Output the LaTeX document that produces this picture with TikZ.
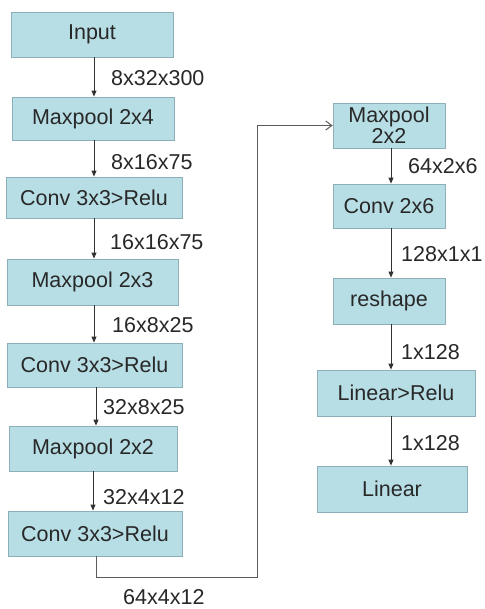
\documentclass[tikz,border=0pt]{standalone}
\usepackage{fontspec}
\setmainfont{Liberation Sans}
\usetikzlibrary{arrows.meta}
\definecolor{boxfill}{RGB}{183,222,229}
\definecolor{boxline}{RGB}{140,175,185}
\definecolor{txt}{RGB}{40,40,40}
\definecolor{wire}{RGB}{50,50,50}
\begin{document}
\begin{tikzpicture}[x=1pt,y=-1pt,
  blk/.style={draw=boxline,line width=0.8pt,fill=boxfill,text=txt,inner sep=0pt,align=center,
    font=\fontsize{21.5}{23}\selectfont},
  lbl/.style={anchor=west,text=txt,inner sep=0pt,font=\fontsize{21.5}{23}\selectfont},
  arr/.style={draw=wire,line width=0.9pt,-{Triangle[length=6pt,width=5pt]}},
  arro/.style={draw=wire!80,line width=1pt,-{Straight Barb[length=6pt,width=9pt]}}]
\useasboundingbox (0,0) rectangle (484,609);
% left column
\node[blk,minimum width=162pt,minimum height=45pt] (in) at (92,34.5) {Input};
\node[blk,minimum width=162pt,minimum height=43pt] (m1) at (93,118.5) {Maxpool 2x4};
\node[blk,minimum width=176pt,minimum height=41pt] (c1) at (94,197.5) {Conv 3x3>Relu};
\node[blk,minimum width=171pt,minimum height=46pt] (m2) at (92.5,282) {Maxpool 2x3};
\node[blk,minimum width=175pt,minimum height=44pt] (c2) at (94.5,365) {Conv 3x3>Relu};
\node[blk,minimum width=168pt,minimum height=45pt] (m3) at (93,448.5) {Maxpool 2x2};
\node[blk,minimum width=174pt,minimum height=45pt] (c3) at (95,533.5) {Conv 3x3>Relu};
% right column
\node[blk,minimum width=112pt,minimum height=45pt] (mr) at (389,125.5) {Maxpool\\[-2pt]2x2};
\node[blk,minimum width=112pt,minimum height=44pt] (cr) at (389,206) {Conv 2x6};
\node[blk,minimum width=112pt,minimum height=46pt] (rs) at (389,301) {reshape};
\node[blk,minimum width=158pt,minimum height=46pt] (lr) at (396,393) {Linear>Relu};
\node[blk,minimum width=150pt,minimum height=46pt] (li) at (392,489) {Linear};
% left arrows
\draw[arr] ([xshift=2pt]in.south) -- ([xshift=2pt]in.south |- m1.north);
\draw[arr] ([xshift=1pt]m1.south) -- ([xshift=1pt]m1.south |- c1.north);
\draw[arr] (c1.south) -- (c1.south |- m2.north);
\draw[arr] ([xshift=1.5pt]m2.south) -- ([xshift=1.5pt]m2.south |- c2.north);
\draw[arr] ([xshift=1.5pt]c2.south) -- ([xshift=1.5pt]c2.south |- m3.north);
\draw[arr] (m3.south) -- (m3.south |- c3.north);
% connector to right column
\coordinate (bend) at (257,577);
\draw[arro] ([xshift=1pt]c3.south) |- (bend) |- (mr.west);
% right arrows
\draw[arr] ([xshift=2pt]mr.south) -- ([xshift=2pt]mr.south |- cr.north);
\draw[arr] ([xshift=2pt]cr.south) -- ([xshift=2pt]cr.south |- rs.north);
\draw[arr] ([xshift=2pt]rs.south) -- ([xshift=2pt]rs.south |- lr.north);
\draw[arr] ([xshift=-5pt]lr.south) -- ([xshift=-5pt]lr.south |- li.north);
% labels
\node[lbl] (l1) at (111,78) {8x32x300};
\node[lbl] (l2) at (111,162) {8x16x75};
\node[lbl] (l3) at (110,242) {16x16x75};
\node[lbl] (l4) at (112,325) {16x8x25};
\node[lbl] (l5) at (103,407) {32x8x25};
\node[lbl] (l6) at (103,497) {32x4x12};
\node[lbl] (l7) at (123,597) {64x4x12};
\node[lbl] (l8) at (408,166) {64x2x6};
\node[lbl] (l9) at (401,254) {128x1x1};
\node[lbl] (l10) at (401,352) {1x128};
\node[lbl] (l11) at (401,443) {1x128};
\end{tikzpicture}
\end{document}
